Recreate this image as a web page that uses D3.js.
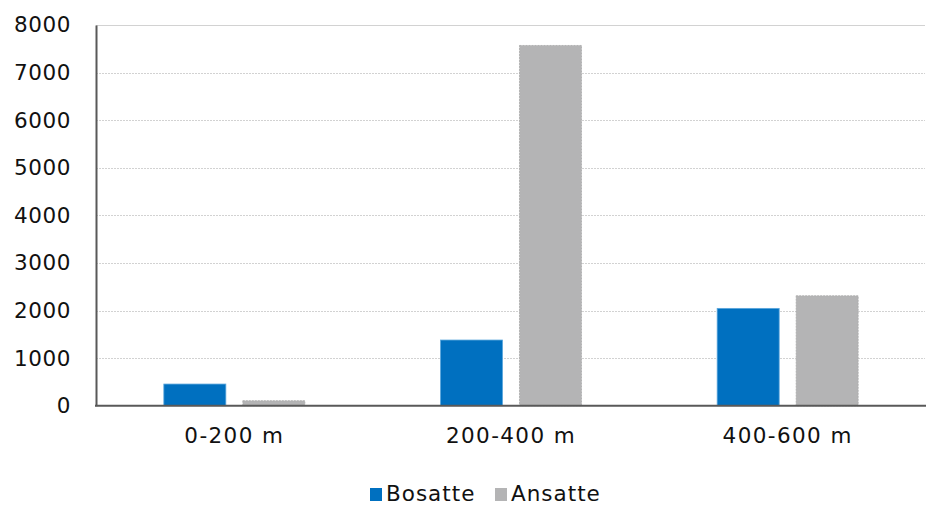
<!DOCTYPE html>
<html>
<head>
<meta charset="utf-8">
<script src="https://cdn.jsdelivr.net/npm/d3@7"></script>
<style>
  html, body { margin: 0; padding: 0; background: #fff; }
  svg { display: block; font-family: "DejaVu Sans", sans-serif; }
</style>
</head>
<body>
<svg id="chart" width="926" height="506"></svg>
<script>
// Height bands and the two population series
const categories = ["0-200 m", "200-400 m", "400-600 m"];
const seriesNames = ["Bosatte", "Ansatte"];
const bosatte = [455, 1380, 2045];
const ansatte = [105, 7570, 2310];
const yTicks = [0, 1000, 2000, 3000, 4000, 5000, 6000, 7000, 8000];
const colors = ["#0070C0", "#B4B4B5"];

const svg = d3.select("#chart");
const margin = { left: 96, right: 0, top: 25, bottom: 100 };
const W = 926, H = 506;
const y0 = 405.7;
const groupW = 141;

const x = d3.scaleBand().domain(categories).range([margin.left, W]).paddingInner(0).paddingOuter(0);
const xs = d3.scaleBand().domain(seriesNames).range([0, groupW]).paddingInner(0.215);
const y = d3.scaleLinear().domain([0, 8000]).range([y0, margin.top]);

// Grid lines
svg.append("g").selectAll("line").data(yTicks.filter(t => t > 0)).join("line")
  .attr("x1", margin.left).attr("x2", 925)
  .attr("y1", d => Math.round(y(d)) + 0.5).attr("y2", d => Math.round(y(d)) + 0.5)
  .attr("stroke", "#d2d2d2").attr("stroke-width", 1)
  .attr("stroke-dasharray", d => d === 8000 ? null : "2,1");

// Bars
const data = categories.map((c, i) => ({ c, vals: [bosatte[i], ansatte[i]] }));
const groups = svg.append("g").selectAll("g").data(data).join("g")
  .attr("transform", d => `translate(${x(d.c) + (x.bandwidth() - groupW) / 2},0)`);
groups.selectAll("rect").data(d => d.vals.map((v, j) => ({ v, j }))).join("rect")
  .attr("x", d => xs(seriesNames[d.j]))
  .attr("width", xs.bandwidth())
  .attr("y", d => y(d.v))
  .attr("height", d => y0 - y(d.v))
  .attr("fill", d => colors[d.j])
  .attr("stroke", d => d.j === 0 ? "#5aa6dc" : "#a9a9aa")
  .attr("stroke-width", 0.8)
  .attr("stroke-dasharray", d => d.j === 1 ? "2,1" : null);

const labelFont = sel => sel
  .attr("font-size", 21.5).attr("fill", "#111")
  .attr("font-family", "DejaVu Sans, sans-serif")
  .attr("letter-spacing", "0.6px");

// Y axis
const yAxis = d3.axisLeft(y).tickValues(yTicks).tickSize(0).tickPadding(25).tickFormat(d3.format("d"));
const gy = svg.append("g").attr("transform", `translate(${margin.left},0)`).call(yAxis);
gy.select(".domain").attr("stroke", "#595959").attr("stroke-width", 2);
gy.selectAll("text").call(labelFont);

// X axis
const xAxis = d3.axisBottom(x).tickSize(0).tickPadding(22);
const gx = svg.append("g").attr("transform", `translate(0,${y0})`).call(xAxis);
gx.select(".domain").attr("stroke", "#595959").attr("stroke-width", 2).attr("d", `M${margin.left - 1},0H${W}`);
gx.selectAll("text").call(labelFont).attr("letter-spacing", "1.4px");

// Legend
const legend = svg.append("g");
const legendItems = [{ name: seriesNames[0], x: 370 }, { name: seriesNames[1], x: 495 }];
legendItems.forEach((it, i) => {
  legend.append("rect").attr("x", it.x).attr("y", 488).attr("width", 12).attr("height", 13).attr("fill", colors[i]);
  legend.append("text").attr("x", it.x + 16).attr("y", 501).text(it.name).call(labelFont).attr("letter-spacing", "1px");
});
</script>
</body>
</html>
